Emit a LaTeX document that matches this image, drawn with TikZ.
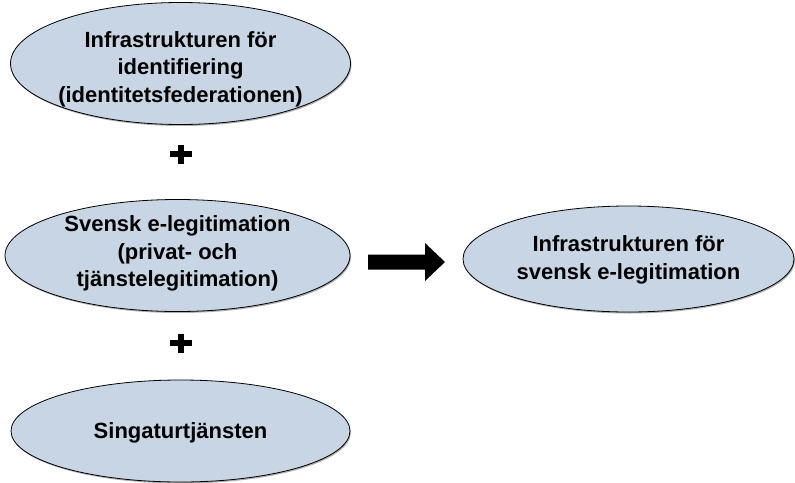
\documentclass[tikz,border=0pt]{standalone}
\usepackage{fontspec}
\setmainfont{Liberation Sans}
\usetikzlibrary{shapes.geometric}
\definecolor{ellfill}{RGB}{200,213,228}
\definecolor{shadowc}{RGB}{175,175,175}
\tikzset{
  ell/.style={ellipse, draw=black, line width=0.8pt, fill=ellfill, inner sep=0pt},
  ellshadow/.style={ellipse, fill=shadowc, draw=none, inner sep=0pt},
  lbl/.style={font=\fontsize{22}{27.5}\selectfont\bfseries, align=center, inner sep=0pt, text=black},
  plusbar/.style={line width=5.5pt, black}
}
\begin{document}
\begin{tikzpicture}[x=1pt,y=-1pt]
\useasboundingbox (0,0) rectangle (795,482);
% shadows
\node[ellshadow, minimum width=340pt, minimum height=122pt] (s1) at (181.5,65) {};
\node[ellshadow, minimum width=345pt, minimum height=112pt] (s2) at (178.5,257) {};
\node[ellshadow, minimum width=339pt, minimum height=102pt] (s3) at (181.5,432.5) {};
\node[ellshadow, minimum width=331pt, minimum height=106pt] (s4) at (629.5,260.5) {};
% ellipses
\node[ell, minimum width=340pt, minimum height=122pt] (e1) at (180.5,63.5) {};
\node[ell, minimum width=345pt, minimum height=112pt] (e2) at (177.5,255.5) {};
\node[ell, minimum width=339pt, minimum height=102pt] (e3) at (180.5,431) {};
\node[ell, minimum width=331pt, minimum height=106pt] (e4) at (628.5,259) {};
% texts
\node[lbl] (t1) at (180.5,69.3) {Infrastrukturen för\\identifiering\\(identitetsfederationen)};
\node[lbl] (t2) at (177.5,253.7) {Svensk e-legitimation\\(privat- och\\tjänstelegitimation)};
\node[lbl] (t3) at (180.5,432.5) {Singaturtjänsten};
\node[lbl] (t4) at (628.5,259.9) {Infrastrukturen för\\svensk e-legitimation};
% plus signs
\coordinate (p1) at (181,154);
\coordinate (p2) at (181,343);
\foreach \p in {p1,p2}{
  \draw[plusbar] ([xshift=-11pt]\p) -- ([xshift=11pt]\p);
  \draw[plusbar] ([yshift=9.5pt]\p) -- ([yshift=-9.5pt]\p);
}
% block arrow
\coordinate (ar) at (368,262);
\fill[black] (ar) ++(0,-7.5) -- (425,254.5) -- (425,243) -- (445,262) -- (425,281) -- (425,269.5) -- (368,269.5) -- cycle;
\end{tikzpicture}
\end{document}
